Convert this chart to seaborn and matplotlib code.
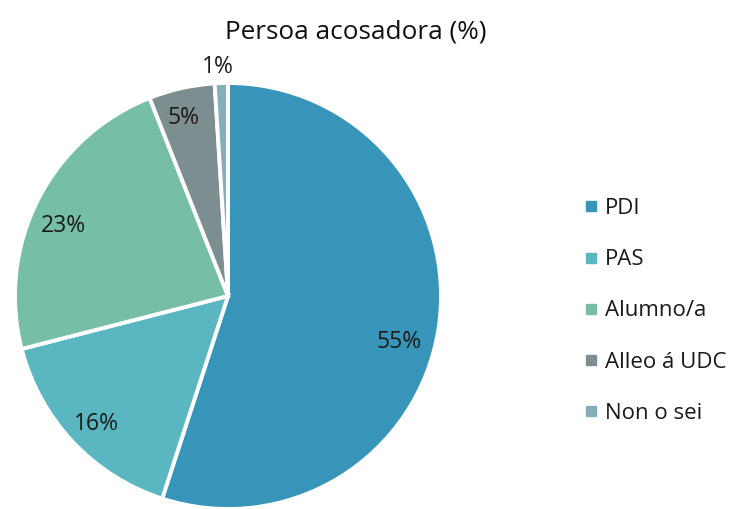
import numpy as np
import matplotlib
matplotlib.use("Agg")
import matplotlib.pyplot as plt
from matplotlib.lines import Line2D
import seaborn as sns

categories = ["PDI", "PAS", "Alumno/a", "Alleo á UDC", "Non o sei"]
values = [55, 16, 23, 5, 1]
colors = ["#3895BA", "#5AB6C0", "#76BEA6", "#7D8E90", "#86AEB9"]

sns.set_theme(style="white")
plt.rcParams["font.family"] = ["Open Sans", "DejaVu Sans"]

W, H = 734, 509
fig = plt.figure(figsize=(W / 100, H / 100), dpi=100)

# pie axes: centre and radius in pixels
cx, cy, r = 228, 296, 213
ax = fig.add_axes([(cx - r) / W, (H - cy - r) / H, 2 * r / W, 2 * r / H])

wedges, _ = ax.pie(
    values,
    colors=colors,
    startangle=90,
    counterclock=False,
    radius=1.0,
    wedgeprops=dict(edgecolor="white", linewidth=2.8),
)
ax.set_xlim(-1, 1)
ax.set_ylim(-1, 1)
ax.set_aspect("equal")
ax.axis("off")

# percentage labels, placed near each wedge's bisector
label_dist = [0.83, 0.86, 0.84, 0.86, 1.075]
label_shift = [-6, 1, 4, 1.3, 0.7]  # degrees
for w, v, d, s in zip(wedges, values, label_dist, label_shift):
    ang = np.deg2rad((w.theta1 + w.theta2) / 2 + s)
    ax.text(d * np.cos(ang), d * np.sin(ang), f"{v}%",
            ha="center", va="center", fontsize=16.5, color="#1a1a1a")

fig.text(356 / W, 1 - 32 / H, "Persoa acosadora (%)", ha="center", va="center",
         fontsize=18.8, color="#111111")

handles = [Line2D([0], [0], marker="s", linestyle="none", markersize=7.5,
                  markerfacecolor=c, markeredgecolor=c) for c in colors]
fig.legend(handles, categories, loc="center left",
           bbox_to_anchor=(582 / W, 1 - 311 / H), frameon=False,
           borderpad=0, borderaxespad=0,
           fontsize=16, labelspacing=1.36, handletextpad=0.2,
           handlelength=0.85, labelcolor="#1a1a1a")

fig.savefig("out.png", dpi=100)
